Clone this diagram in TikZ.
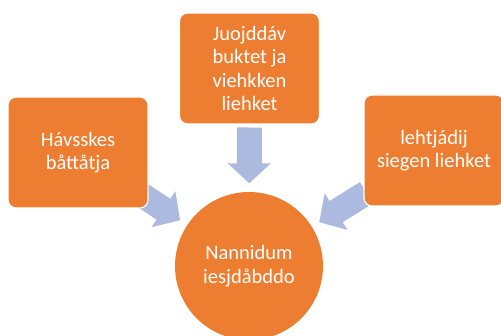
\documentclass[tikz,border=0pt]{standalone}
\usepackage{fontspec}
\setmainfont{Carlito}
\usepackage{tikz}
\usetikzlibrary{calc,arrows.meta,backgrounds}
\definecolor{box}{HTML}{ED7D31}
\definecolor{flow}{HTML}{ADBADF}
\tikzset{
  card/.style={draw=white, line width=1.2pt, fill=box, rounded corners=8pt,
    minimum width=140pt, minimum height=111pt, inner sep=0pt,
    text=white, align=center, font=\fontsize{20.5pt}{23.5pt}\selectfont},
  hub/.style={circle, fill=box, minimum size=148pt, inner sep=0pt,
    text=white, align=center, font=\fontsize{20.5pt}{23.5pt}\selectfont},
  blk/.style={draw=flow, line width=25pt,
    -{Triangle[width=42pt, length=20pt]}, shorten >=8.5pt}
}

\begin{document}
\begin{tikzpicture}[x=1pt, y=-1pt]
\useasboundingbox (0,0) rectangle (501,336);
% centre
\node[hub] (goal) at (249,266) {Nannidum\\iesjdåbddo};

% the three boxes
\node[card] (left) at (78,152.5) {Hávsskes\\båttåtja};
\node[card] (top) at (249.5,68.5) {Juojddáv\\buktet ja\\viehkken\\liehket};
\node[card] (right) at (434,150.5) {lehtjádij\\siegen liehket};

% arrows (behind the boxes)
\begin{pgfonlayer}{background}
\draw[blk] ($(goal.center)!138.5pt!(left.center)$) -- (goal);
\draw[blk] ($(goal.center)!138.5pt!(top.center)$) -- (goal);
\draw[blk] ($(goal.center)!138.5pt!(right.center)$) -- (goal);
\end{pgfonlayer}
\end{tikzpicture}
\end{document}
